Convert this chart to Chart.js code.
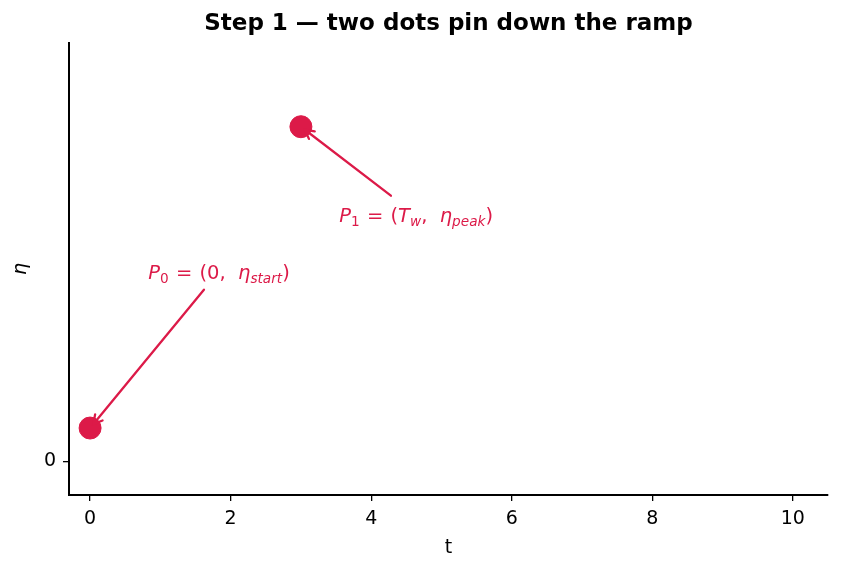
<!DOCTYPE html>
<html>
<head>
<meta charset="utf-8">
<script src="https://cdn.jsdelivr.net/npm/chart.js@4"></script>
<style>
  html, body { margin: 0; padding: 0; background: #fff; }
  #wrap { width: 842px; height: 571px; }
</style>
</head>
<body>
<div id="wrap"><canvas id="rampChart"></canvas></div>
<script>
const pointT = [0, 3];
const pointEta = [0.1, 1.0];
const xTicks = [0, 2, 4, 6, 8, 10];
const yTicks = [0];
const labelTexts = [
  [["P", "it"], ["0", "sub"], [" = ", "op"], ["(0,  ", ""], ["η", "it"], ["start", "subit"], [")", ""]],
  [["P", "it"], ["1", "sub"], [" = ", "op"], ["(", ""], ["T", "it"], ["w", "subit"], [",  ", ""], ["η", "it"], ["peak", "subit"], [")", ""]]
];
const chartTitle = "Step 1 — two dots pin down the ramp";

const RED = "#dc1a48";
const FONT = "'DejaVu Sans', sans-serif";

// where each label sits and where its arrow leaves from, in data units
const notes = [
  { text: labelTexts[0], tx: 1.835, ty: 0.567, ax: 1.62, ay: 0.513, px: pointT[0], py: pointEta[0] },
  { text: labelTexts[1], tx: 4.64, ty: 0.737, ax: 4.28, ay: 0.794, px: pointT[1], py: pointEta[1] }
];

function drawMathText(ctx, parts, cx, cy, size) {
  const fontFor = (kind) => {
    const s = kind.startsWith("sub") ? size * 0.7 : size;
    const it = kind === "it" || kind === "subit" ? "italic " : "";
    return it + s + "px " + FONT;
  };
  let total = 0;
  const widths = parts.map(([t, kind]) => {
    ctx.font = fontFor(kind);
    const w = ctx.measureText(t).width + (kind === "op" ? size * 0.1 : 0);
    total += w;
    return w;
  });
  let x = cx - total / 2;
  const base = cy + size * 0.36;
  ctx.textAlign = "left";
  ctx.textBaseline = "alphabetic";
  parts.forEach(([t, kind], i) => {
    ctx.font = fontFor(kind);
    const dx = kind === "op" ? size * 0.05 : 0;
    ctx.fillText(t, x + dx, kind.startsWith("sub") ? base + size * 0.2 : base);
    x += widths[i];
  });
}

// title centred over the plot area, like the original
const titlePlugin = {
  id: "axesTitle",
  afterDraw(chart) {
    const { ctx, chartArea } = chart;
    ctx.save();
    ctx.fillStyle = "#000";
    ctx.font = "bold 23px " + FONT;
    ctx.textAlign = "center";
    ctx.textBaseline = "middle";
    ctx.fillText(chartTitle, (chartArea.left + chartArea.right) / 2, 24);
    ctx.restore();
  }
};

const annotatePlugin = {
  id: "annotate",
  afterDatasetsDraw(chart) {
    const { ctx, scales: { x, y } } = chart;
    ctx.save();
    ctx.strokeStyle = RED;
    ctx.fillStyle = RED;
    ctx.lineWidth = 2.3;
    ctx.lineCap = "round";
    notes.forEach(n => {
      const x0 = x.getPixelForValue(n.ax), y0 = y.getPixelForValue(n.ay);
      const px = x.getPixelForValue(n.px), py = y.getPixelForValue(n.py);
      const ang = Math.atan2(py - y0, px - x0);
      const x1 = px - Math.cos(ang) * 5, y1 = py - Math.sin(ang) * 5;
      ctx.beginPath();
      ctx.moveTo(x0, y0);
      ctx.lineTo(x1, y1);
      const head = 10, spread = 0.5;
      ctx.moveTo(x1 - head * Math.cos(ang - spread), y1 - head * Math.sin(ang - spread));
      ctx.lineTo(x1, y1);
      ctx.lineTo(x1 - head * Math.cos(ang + spread), y1 - head * Math.sin(ang + spread));
      ctx.stroke();
      drawMathText(ctx, n.text, x.getPixelForValue(n.tx), y.getPixelForValue(n.ty), 19.5);
    });
    ctx.restore();
  }
};

new Chart(document.getElementById("rampChart"), {
  type: "scatter",
  data: {
    datasets: [{
      data: pointT.map((t, i) => ({ x: t, y: pointEta[i] })),
      backgroundColor: RED,
      borderColor: RED,
      pointRadius: 11,
      pointHoverRadius: 11
    }]
  },
  options: {
    responsive: true,
    maintainAspectRatio: false,
    animation: false,
    layout: { padding: { left: 0, right: 14, top: 43, bottom: 0 } },
    plugins: {
      legend: { display: false },
      tooltip: { enabled: false },
      title: { display: false }
    },
    scales: {
      x: {
        type: "linear",
        min: -0.3,
        max: 10.5,
        afterBuildTicks: s => { s.ticks = xTicks.map(v => ({ value: v })); },
        afterFit: s => { s.height = 76; },
        grid: { display: true, drawOnChartArea: false, drawTicks: true, tickLength: 6, color: "#000", lineWidth: 1.3 },
        border: { display: true, color: "#000", width: 2 },
        ticks: { color: "#000", font: { family: FONT, size: 19 }, padding: 7, maxRotation: 0 },
        title: { display: true, text: "t", color: "#000", font: { family: FONT, size: 19 }, padding: { top: 0, bottom: 12 } }
      },
      y: {
        type: "linear",
        min: -0.1,
        max: 1.25,
        afterBuildTicks: s => { s.ticks = yTicks.map(v => ({ value: v })); },
        afterFit: s => { s.width = 69; },
        grid: { display: true, drawOnChartArea: false, drawTicks: true, tickLength: 6, color: "#000", lineWidth: 1.3 },
        border: { display: true, color: "#000", width: 2 },
        ticks: { color: "#000", font: { family: FONT, size: 19 }, padding: 7 },
        title: { display: true, text: "η", color: "#000", font: { family: FONT, size: 19, style: "italic" }, padding: { top: 10, bottom: 12 } }
      }
    }
  },
  plugins: [annotatePlugin, titlePlugin]
});
</script>
</body>
</html>
